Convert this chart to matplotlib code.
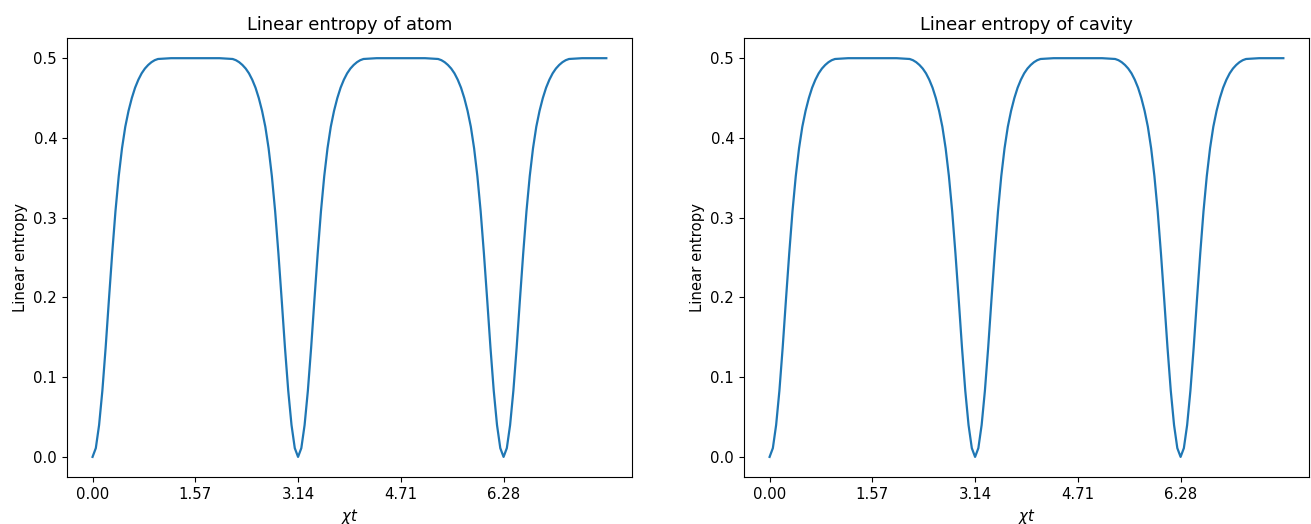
import matplotlib
matplotlib.use("Agg")
import matplotlib.pyplot as plt

plt.rcParams["font.size"] = 10.75
plt.rcParams["lines.linewidth"] = 1.6

# chi*t values and linear entropy values
chi_t = [0.00, 0.05, 0.10, 0.15, 0.20, 0.25, 0.30, 0.35, 0.40, 0.45, 0.50, 0.55, 0.60,
         0.65, 0.70, 0.75, 0.80, 0.85, 0.90, 0.95, 1.00, 1.10, 1.20, 1.40, 1.60, 1.80,
         1.94, 2.04, 2.14, 2.19, 2.24, 2.29, 2.34, 2.39, 2.44, 2.49, 2.54, 2.59, 2.64,
         2.69, 2.74, 2.79, 2.84, 2.89, 2.94, 2.99, 3.04, 3.09, 3.14, 3.19, 3.24, 3.29,
         3.34, 3.39, 3.44, 3.49, 3.54, 3.59, 3.64, 3.69, 3.74, 3.79, 3.84, 3.89, 3.94,
         3.99, 4.04, 4.09, 4.14, 4.24, 4.34, 4.54, 4.74, 4.94,
         5.08, 5.18, 5.28, 5.33, 5.38, 5.43, 5.48, 5.53, 5.58, 5.63, 5.68, 5.73, 5.78,
         5.83, 5.88, 5.93, 5.98, 6.03, 6.08, 6.13, 6.18, 6.23, 6.28, 6.33, 6.38, 6.43,
         6.48, 6.53, 6.58, 6.63, 6.68, 6.73, 6.78, 6.83, 6.88, 6.93, 6.98, 7.03, 7.08,
         7.13, 7.18, 7.23, 7.28, 7.38, 7.48, 7.65, 7.85]

s_atom = [0.000, 0.011, 0.040, 0.083, 0.137, 0.197, 0.255, 0.308, 0.352, 0.387, 0.414, 0.434, 0.450,
          0.463, 0.473, 0.481, 0.487, 0.4915, 0.495, 0.4975, 0.499, 0.4995, 0.500, 0.500, 0.500, 0.500,
          0.500, 0.4995, 0.499, 0.4975, 0.495, 0.4915, 0.487, 0.481, 0.473, 0.463, 0.450, 0.434, 0.414,
          0.387, 0.352, 0.308, 0.255, 0.197, 0.137, 0.083, 0.040, 0.011, 0.000, 0.011, 0.040, 0.083,
          0.137, 0.197, 0.255, 0.308, 0.352, 0.387, 0.414, 0.434, 0.450, 0.463, 0.473, 0.481, 0.487,
          0.4915, 0.495, 0.4975, 0.499, 0.4995, 0.500, 0.500, 0.500, 0.500,
          0.500, 0.4995, 0.499, 0.4975, 0.495, 0.4915, 0.487, 0.481, 0.473, 0.463, 0.450, 0.434, 0.414,
          0.387, 0.352, 0.308, 0.255, 0.197, 0.137, 0.083, 0.040, 0.011, 0.000, 0.011, 0.040, 0.083,
          0.137, 0.197, 0.255, 0.308, 0.352, 0.387, 0.414, 0.434, 0.450, 0.463, 0.473, 0.481, 0.487,
          0.4915, 0.495, 0.4975, 0.499, 0.4995, 0.500, 0.500, 0.500]

s_cavity = [0.000, 0.011, 0.040, 0.083, 0.137, 0.197, 0.255, 0.308, 0.352, 0.387, 0.414, 0.434, 0.450,
            0.463, 0.473, 0.481, 0.487, 0.4915, 0.495, 0.4975, 0.499, 0.4995, 0.500, 0.500, 0.500, 0.500,
            0.500, 0.4995, 0.499, 0.4975, 0.495, 0.4915, 0.487, 0.481, 0.473, 0.463, 0.450, 0.434, 0.414,
            0.387, 0.352, 0.308, 0.255, 0.197, 0.137, 0.083, 0.040, 0.011, 0.000, 0.011, 0.040, 0.083,
            0.137, 0.197, 0.255, 0.308, 0.352, 0.387, 0.414, 0.434, 0.450, 0.463, 0.473, 0.481, 0.487,
            0.4915, 0.495, 0.4975, 0.499, 0.4995, 0.500, 0.500, 0.500, 0.500,
            0.500, 0.4995, 0.499, 0.4975, 0.495, 0.4915, 0.487, 0.481, 0.473, 0.463, 0.450, 0.434, 0.414,
            0.387, 0.352, 0.308, 0.255, 0.197, 0.137, 0.083, 0.040, 0.011, 0.000, 0.011, 0.040, 0.083,
            0.137, 0.197, 0.255, 0.308, 0.352, 0.387, 0.414, 0.434, 0.450, 0.463, 0.473, 0.481, 0.487,
            0.4915, 0.495, 0.4975, 0.499, 0.4995, 0.500, 0.500, 0.500]

tick_pos = [0.0, 1.5708, 3.1416, 4.7124, 6.2832]
tick_labels = ["0.00", "1.57", "3.14", "4.71", "6.28"]

fig, axes = plt.subplots(1, 2, figsize=(13.11, 5.24), dpi=100)
fig.subplots_adjust(left=0.051, right=0.9985, bottom=0.090, top=0.927, wspace=0.198)

for ax, s, name in zip(axes, [s_atom, s_cavity], ["atom", "cavity"]):
    ax.plot(chi_t, s)
    ax.set_title(f"Linear entropy of {name}")
    ax.set_xlabel(r"$\chi t$")
    ax.set_ylabel("Linear entropy")
    ax.set_xticks(tick_pos)
    ax.set_xticklabels(tick_labels)

plt.savefig("out.png", dpi=100)
